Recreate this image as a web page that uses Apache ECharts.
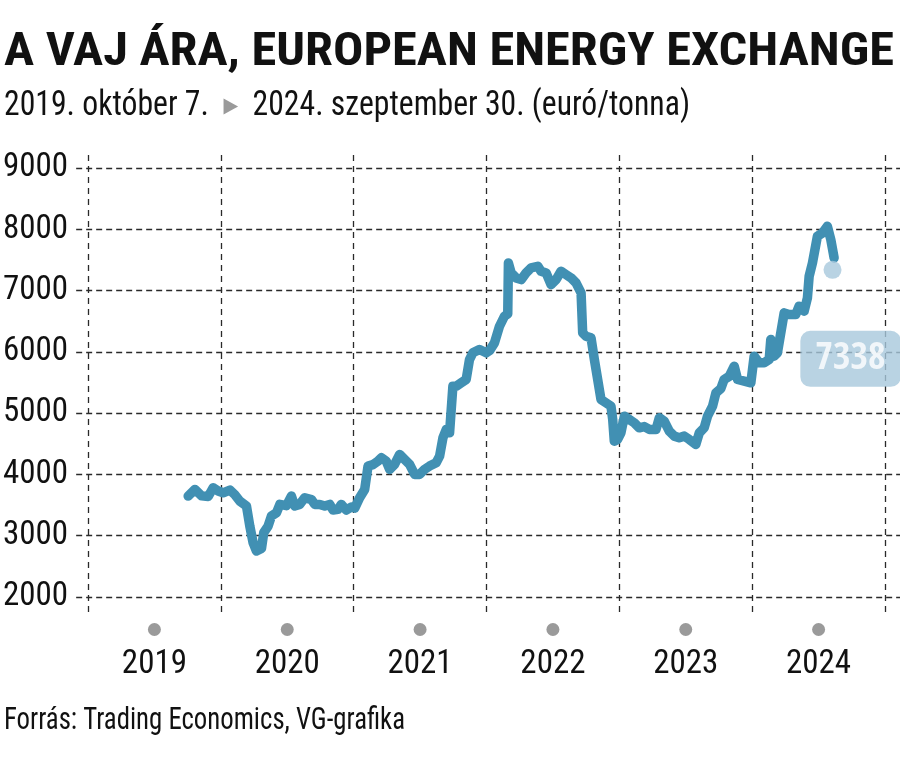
<!DOCTYPE html>
<html>
<head>
<meta charset="utf-8">
<script src="https://cdn.jsdelivr.net/npm/echarts@6/dist/echarts.min.js"></script>
<style>
html,body{margin:0;padding:0;background:#fff;}
#c{width:900px;height:758px;}
</style>
</head>
<body>
<div id="c"></div>
<script>
// ---- data (decimal year, euro/tonne) ----
const dates = [
2019.754,2019.805,2019.855,2019.905,2019.942,2019.980,2020.017,2020.068,2020.105,2020.143,
2020.193,2020.218,2020.243,2020.268,2020.306,2020.323,2020.356,2020.381,2020.419,2020.444,
2020.494,2020.531,2020.556,2020.594,2020.632,2020.682,2020.707,2020.744,2020.782,2020.820,
2020.845,2020.882,2020.907,2020.945,2020.983,2021.008,2021.045,2021.083,2021.108,2021.145,
2021.183,2021.208,2021.245,2021.271,2021.308,2021.346,2021.383,2021.421,2021.459,2021.496,
2021.534,2021.571,2021.621,2021.647,2021.672,2021.697,2021.722,2021.747,2021.772,2021.810,
2021.847,2021.872,2021.897,2021.947,2021.998,2022.023,2022.060,2022.098,2022.135,2022.160,
2022.165,2022.186,2022.223,2022.261,2022.298,2022.336,2022.386,2022.411,2022.449,2022.486,
2022.524,2022.561,2022.599,2022.637,2022.674,2022.712,2022.724,2022.749,2022.787,2022.812,
2022.837,2022.862,2022.900,2022.937,2022.950,2022.962,2022.987,2023.012,2023.038,2023.075,
2023.113,2023.150,2023.188,2023.226,2023.276,2023.301,2023.338,2023.376,2023.414,2023.451,
2023.489,2023.526,2023.576,2023.602,2023.639,2023.664,2023.702,2023.727,2023.764,2023.789,
2023.827,2023.865,2023.890,2023.940,2023.990,2024.015,2024.053,2024.090,2024.128,2024.140,
2024.165,2024.190,2024.241,2024.278,2024.328,2024.353,2024.391,2024.416,2024.429,2024.454,
2024.491,2024.529,2024.566,2024.592,2024.617
];
const prices = [
3647,3755,3650,3640,3783,3730,3700,3745,3670,3565,
3484,3158,2886,2750,2790,3049,3158,3321,3375,3511,
3490,3647,3484,3510,3620,3590,3511,3511,3484,3511,
3418,3430,3511,3418,3470,3450,3620,3755,4136,4160,
4217,4272,4217,4082,4163,4326,4245,4163,4000,4000,
4082,4136,4190,4299,4598,4734,4679,5440,5440,5495,
5549,5875,5984,6038,5984,6020,6147,6418,6581,6620,
7451,7288,7207,7179,7288,7370,7397,7315,7288,7098,
7179,7315,7260,7207,7125,6962,6310,6255,6228,5875,
5549,5223,5168,5114,4897,4543,4570,4679,4951,4897,
4842,4761,4780,4734,4734,4924,4870,4707,4625,4598,
4625,4571,4489,4679,4761,4951,5114,5332,5400,5549,
5600,5766,5549,5522,5495,5929,5821,5821,5875,6201,
5929,5984,6636,6609,6609,6745,6663,6880,7234,7451,
7886,7940,8049,7832,7532
];
const lastDate = 2024.605;
const lastValue = 7338;
const yearLabels = ['2019','2020','2021','2022','2023','2024'];
const yTicks = [2000, 9000, 1000]; // min, max, step

const titleText = 'A VAJ ÁRA, EUROPEAN ENERGY EXCHANGE';
const subFrom = '2019. október 7.';
const subTo = '2024. szeptember 30. (euró/tonna)';
const sourceText = 'Forrás: Trading Economics, VG-grafika';

const FAM = "'Roboto Condensed','DejaVu Sans Condensed',sans-serif";
const LINE = '#4190b3';
const LIGHT = '#a8c8dc';
const GRIDC = '#2a2a2a';

// horizontal squeeze so the condensed fallback font covers the same width as the original type
const ctx = document.createElement('canvas').getContext('2d');
function fit(font, text, target){ ctx.font = font; return target / ctx.measureText(text).width; }
const titleFont = "bold 47px " + FAM;
const subFont = "normal 35px " + FAM;
const triFont = "normal 21px 'DejaVu Sans',sans-serif";
const srcFont = "normal 32px " + FAM;
ctx.font = subFont;
const subW = ctx.measureText(subFrom).width + ctx.measureText(subTo).width;
ctx.font = triFont;
const triW = ctx.measureText('▶').width;
ctx.font = subFont;
const spW = ctx.measureText('  ').width * 2;
const subScale = 686 / (subW + triW + spW);

const chart = echarts.init(document.getElementById('c'), null, {renderer:'canvas'});
const lineData = dates.map((d,i)=>[d, prices[i]]);

chart.setOption({
  animation:false,
  backgroundColor:'#fff',
  graphic:[
    {type:'text', x:4, y:30, scaleX:fit(titleFont, titleText, 890),
     style:{text:titleText, font:titleFont, fill:'#111', verticalAlign:'top'}},
    {type:'text', x:4, y:89, scaleX:subScale,
     style:{text:'{a|'+subFrom+'}{a|  }{t|▶}{a|  }{a|'+subTo+'}', verticalAlign:'top',
       rich:{a:{font:subFont, fill:'#111'}, t:{font:triFont, fill:'#9a9a9a'}}}},
    {type:'text', x:4, y:705, scaleX:fit(srcFont, sourceText, 401),
     style:{text:sourceText, font:srcFont, fill:'#111', verticalAlign:'top'}}
  ],
  grid:[
    {left:73, right:0, top:168, bottom:161},   // horizontal gridlines + y labels
    {left:88, right:15, top:155, bottom:141},  // vertical gridlines + year labels
    {left:88, right:15, top:168, bottom:161}   // data
  ],
  xAxis:[
    {gridIndex:0, type:'value', show:false, min:0, max:1},
    {gridIndex:1, type:'value', min:2019, max:2025, interval:1,
     axisLine:{show:false}, axisTick:{show:false}, axisLabel:{show:false},
     splitLine:{show:true, lineStyle:{color:GRIDC, width:1.3, type:[6,5]}}},
    {gridIndex:1, type:'category', data:yearLabels, boundaryGap:true, position:'bottom',
     axisLine:{show:false}, axisTick:{show:false}, splitLine:{show:false},
     axisLabel:{show:true, margin:6, formatter:v=>'{d|}\n{y|'+v+'}',
       rich:{d:{width:13,height:13,borderRadius:6.5,backgroundColor:'#9a9a9a',lineHeight:13},
             y:{fontFamily:FAM,fontSize:33,color:'#111',lineHeight:58}}}},
    {gridIndex:2, type:'value', min:2019, max:2025, show:false}
  ],
  yAxis:[
    {gridIndex:0, type:'value', min:yTicks[0], max:yTicks[1], interval:yTicks[2],
     axisLine:{show:false}, axisTick:{show:false},
     axisLabel:{margin:8, fontFamily:FAM, fontSize:33, color:'#111', formatter:v=>String(v)},
     splitLine:{show:true, lineStyle:{color:GRIDC, width:1.3, type:[6,4]}}},
    {gridIndex:1, type:'value', show:false, min:0, max:1, splitLine:{show:false}},
    {gridIndex:2, type:'value', show:false, min:yTicks[0], max:yTicks[1], splitLine:{show:false}}
  ],
  series:[
    {type:'line', xAxisIndex:3, yAxisIndex:2, data:lineData, symbol:'none', smooth:false,
     lineStyle:{color:LINE, width:9.5, cap:'round', join:'round'}, z:5},
    {type:'scatter', xAxisIndex:3, yAxisIndex:2, data:[[lastDate,lastValue]], symbolSize:18,
     itemStyle:{color:LIGHT}, z:6,
     label:{show:true, position:'inside', offset:[18,89], formatter:p=>String(p.value[1]),
       fontFamily:"'Open Sans Condensed','Roboto Condensed',sans-serif", fontSize:38, fontWeight:'bold', color:'#fff',
       backgroundColor:LIGHT, borderRadius:10, padding:[6,15,6,15], lineHeight:44}}
  ]
});
</script>
</body>
</html>
